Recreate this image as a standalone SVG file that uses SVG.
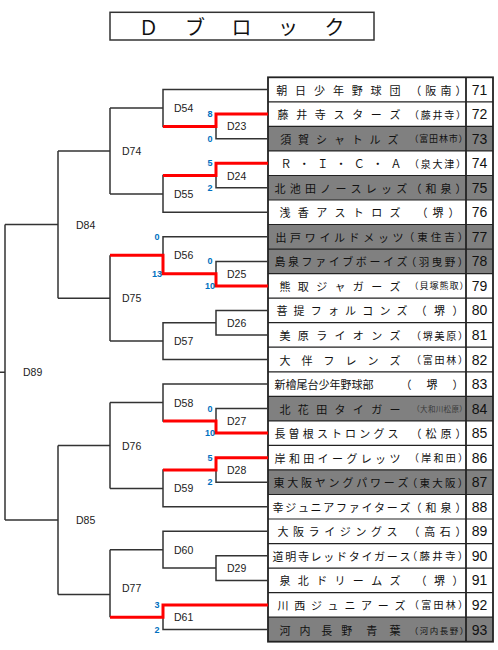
<svg xmlns="http://www.w3.org/2000/svg" width="498" height="650" viewBox="0 0 498 650">
<style>
.nm{font-family:"Noto Sans CJK JP","Noto Sans CJK SC",sans-serif;font-size:11px;fill:#111;text-anchor:middle;dominant-baseline:central}
.rg{font-family:"Noto Sans CJK JP","Noto Sans CJK SC",sans-serif;font-size:11px;fill:#111;text-anchor:middle;dominant-baseline:central}
.no{font-family:"Liberation Sans",Arial,sans-serif;font-size:14px;fill:#111;text-anchor:middle;dominant-baseline:central}
.lb{font-family:"Liberation Sans",Arial,sans-serif;font-size:10.5px;fill:#222;dominant-baseline:central}
.sc{font-family:"Liberation Sans",Arial,sans-serif;font-size:9px;font-weight:bold;fill:#0070c0;text-anchor:middle;dominant-baseline:central}
.ln{fill:none;stroke:#333;stroke-width:1.5}
.rd{fill:none;stroke:#ff0000;stroke-width:3}
.gr{fill:#808080}
.grid{fill:none;stroke:#222;stroke-width:1.2}
.ttl{font-family:"Noto Sans CJK JP","Noto Sans CJK SC",sans-serif;font-size:20px;fill:#111;text-anchor:middle;dominant-baseline:central}
</style>
<rect width="498" height="650" fill="#fff"/>
<g id="title">
<rect x="110" y="12.3" width="264" height="27.7" fill="#fff" stroke="#333" stroke-width="1.5"/>
<text class="ttl" x="148.5 195 241.5 288 334.5" y="26">Ｄブロック</text>
</g>
<g id="table-bg">
<rect class="gr" x="268" y="126.4" width="225" height="24.5"/>
<rect class="gr" x="268" y="175.5" width="225" height="24.5"/>
<rect class="gr" x="268" y="224.5" width="225" height="49.1"/>
<rect class="gr" x="268" y="396.3" width="225" height="24.6"/>
<rect class="gr" x="268" y="469.9" width="225" height="24.6"/>
<rect class="gr" x="268" y="617.2" width="225" height="24.5"/>
</g>
<g id="table-grid">
<path class="grid" d="M268 101.8H493M268 126.4H493M268 150.9H493M268 175.5H493M268 200H493M268 224.5H493M268 249.1H493M268 273.6H493M268 298.2H493M268 322.7H493M268 347.2H493M268 371.8H493M268 396.3H493M268 420.9H493M268 445.4H493M268 469.9H493M268 494.5H493M268 519H493M268 543.6H493M268 568.1H493M268 592.6H493M268 617.2H493"/>
<rect x="268" y="77.3" width="225" height="564.4" fill="none" stroke="#222" stroke-width="1.8"/>
<path d="M466 77.3V641.7" stroke="#222" stroke-width="1.8"/>
</g>
<g id="connectors">
<path class="ln" d="M268 89.6H163V126.4H216M268 114.1H216V138.7H268M163 108H110M268 163.2H216V187.7H268M216 175.5H163V212.3H268M163 193.9H110M110 108V193.9M110 151H58M268 236.8H163V273.7H216M268 261.4H216V285.9H268M163 255.2H110M268 310.4H216V335H268M216 322.7H163V359.5H268M163 341.1H110M110 255.2V341.1M110 298.2H58M58 151V298.2M58 224.6H5M268 384.1H163V420.9H216M268 408.6H216V433.1H268M163 402.5H110M268 457.7H216V482.2H268M216 470H163V506.8H268M163 488.4H110M110 402.5V488.4M110 445.5H58M268 531.3H163V568.1H216M268 555.8H216V580.4H268M163 549.7H110M268 604.9H163V629.5H268M163 617.2H110M110 549.7V617.2M110 594.5H58M58 445.5V594.5M58 520H5M5 224.6V520M5 372.3H0"/>
<path class="rd" d="M268 114.1H216V126.4H163M268 163.2H216V175.5H163M268 285.9H216V273.7H163V255.2H110M268 433.1H216V420.9H163M268 457.7H216V470H163M268 604.9H163V617.2H110"/>
</g>
<g id="team-71"><text class="nm" x="281.7 300.6 319.5 338.4 357.2 376.1 395" y="89.6">朝日少年野球団</text><text class="rg" x="415.7 430.8 445.9 461" y="89.6">（阪南）</text><text class="no" x="479.5" y="89.6">71</text></g>
<g id="team-72"><text class="nm" x="283 301.7 320.3 339 357.7 376.3 395" y="114.1">藤井寺スターズ</text><text class="rg" style="font-size:10px" x="414 425.8 437.5 449.3 461" y="114.1">（藤井寺）</text><text class="no" x="479.5" y="114.1">72</text></g>
<g id="team-73"><text class="nm" x="285.7 303.6 321.5 339.4 357.2 375.1 393" y="138.7">須賀シャトルズ</text><text class="rg" style="font-size:9px" x="414 423.8 433.6 443.4 453.2 463" y="138.7">（富田林市）</text><text class="no" x="479.5" y="138.7">73</text></g>
<g id="team-74"><text class="nm" x="286 304.3 322.7 341 359.3 377.7 396" y="163.2">Ｒ・Ｉ・Ｃ・Ａ</text><text class="rg" style="font-size:10px" x="414 425.8 437.5 449.3 461" y="163.2">（泉大津）</text><text class="no" x="479.5" y="163.2">74</text></g>
<g id="team-75"><text class="nm" x="280 295.2 310.4 325.6 340.9 356.1 371.3 386.5 401.7" y="187.7">北池田ノースレッズ</text><text class="rg" x="416 431 446 461" y="187.7">（和泉）</text><text class="no" x="479.5" y="187.7">75</text></g>
<g id="team-76"><text class="nm" x="285 303.3 321.7 340 358.3 376.7 395" y="212.3">浅香アストロズ</text><text class="rg" x="422 438 454" y="212.3">（堺）</text><text class="no" x="479.5" y="212.3">76</text></g>
<g id="team-77"><text class="nm" x="281 295.6 310.3 324.9 339.5 354.1 368.8 383.4 398" y="236.8">出戸ワイルドメッツ</text><text class="rg" style="font-size:10.5px" x="409 422.5 436 449.5 463" y="236.8">（東住吉）</text><text class="no" x="479.5" y="236.8">77</text></g>
<g id="team-78"><text class="nm" x="280 293.6 307.1 320.7 334.2 347.8 361.3 374.9 388.4 402" y="261.4">島泉ファイブボーイズ</text><text class="rg" style="font-size:10.5px" x="411 424 437 450 463" y="261.4">（羽曳野）</text><text class="no" x="479.5" y="261.4">78</text></g>
<g id="team-79"><text class="nm" x="285 303.3 321.7 340 358.3 376.7 395" y="285.9">熊取ジャガーズ</text><text class="rg" style="font-size:9px" x="414 424 434 444 454 464" y="285.9">（貝塚熊取）</text><text class="no" x="479.5" y="285.9">79</text></g>
<g id="team-80"><text class="nm" x="282 299.1 316.3 333.4 350.6 367.7 384.9 402" y="310.4">菩提フォルコンズ</text><text class="rg" x="421 439.5 458" y="310.4">（堺）</text><text class="no" x="479.5" y="310.4">80</text></g>
<g id="team-81"><text class="nm" x="285 303.3 321.7 340 358.3 376.7 395" y="335">美原ライオンズ</text><text class="rg" style="font-size:10px" x="416 427.8 439.5 451.3 463" y="335">（堺美原）</text><text class="no" x="479.5" y="335">81</text></g>
<g id="team-82"><text class="nm" x="285 307 329 351 373 395" y="359.5">大伴フレンズ</text><text class="rg" style="font-size:10px" x="416 427.8 439.5 451.3 463" y="359.5">（富田林）</text><text class="no" x="479.5" y="359.5">82</text></g>
<g id="team-83"><text class="nm" x="280 291 302 313 324 335 346 357 368" y="384.1">新檜尾台少年野球部</text><text class="rg" x="406 432 458" y="384.1">（堺）</text><text class="no" x="479.5" y="384.1">83</text></g>
<g id="team-84"><text class="nm" x="285 303.3 321.7 340 358.3 376.7 395" y="408.6">北花田タイガー</text><text class="rg" style="font-size:7.5px;fill:#3a3a3a" x="416 423.8 431.7 439.5 447.3 455.2 463" y="408.6">（大和川松原）</text><text class="no" x="479.5" y="408.6">84</text></g>
<g id="team-85"><text class="nm" x="280 294.1 308.3 322.4 336.5 350.6 364.8 378.9 393" y="433.1">長曽根ストロングス</text><text class="rg" x="416 431 446 461" y="433.1">（松原）</text><text class="no" x="479.5" y="433.1">85</text></g>
<g id="team-86"><text class="nm" x="280 294.4 308.8 323.1 337.5 351.9 366.3 380.6 395" y="457.7">岸和田イーグレッツ</text><text class="rg" style="font-size:10px" x="414 426.3 438.5 450.8 463" y="457.7">（岸和田）</text><text class="no" x="479.5" y="457.7">86</text></g>
<g id="team-87"><text class="nm" x="279 292.8 306.6 320.3 334.1 347.9 361.7 375.4 389.2 403" y="482.2">東大阪ヤングパワーズ</text><text class="rg" style="font-size:10.5px" x="412 424.8 437.5 450.3 463" y="482.2">（東大阪）</text><text class="no" x="479.5" y="482.2">87</text></g>
<g id="team-88"><text class="nm" x="278 290.7 303.4 316.1 328.8 341.5 354.2 366.9 379.6 392.3 405" y="506.8">幸ジュニアファイターズ</text><text class="rg" x="416 431 446 461" y="506.8">（和泉）</text><text class="no" x="479.5" y="506.8">88</text></g>
<g id="team-89"><text class="nm" x="283 298.6 314.1 329.7 345.3 360.9 376.4 392" y="531.3">大阪ライジングス</text><text class="rg" x="414 429.7 445.3 461" y="531.3">（高石）</text><text class="no" x="479.5" y="531.3">89</text></g>
<g id="team-90"><text class="nm" x="278 290.7 303.4 316.1 328.8 341.5 354.2 366.9 379.6 392.3 405" y="555.8">道明寺レッドタイガース</text><text class="rg" style="font-size:10.5px" x="412 424.8 437.5 450.3 463" y="555.8">（藤井寺）</text><text class="no" x="479.5" y="555.8">90</text></g>
<g id="team-91"><text class="nm" x="285 303.3 321.7 340 358.3 376.7 395" y="580.4">泉北ドリームズ</text><text class="rg" x="421 439.5 458" y="580.4">（堺）</text><text class="no" x="479.5" y="580.4">91</text></g>
<g id="team-92"><text class="nm" x="283 299.7 316.4 333.1 349.9 366.6 383.3 400" y="604.9">川西ジュニアーズ</text><text class="rg" style="font-size:10px" x="414 426.3 438.5 450.8 463" y="604.9">（富田林）</text><text class="no" x="479.5" y="604.9">92</text></g>
<g id="team-93"><text class="nm" x="285 305 326.7 346.7 371.7 395" y="629.5">河内長野青葉</text><text class="rg" style="font-size:8.5px" x="414 424 434 444 454 464" y="629.5">（河内長野）</text><text class="no" x="479.5" y="629.5">93</text></g>
<g id="match-D23"><text class="lb" x="227" y="126.4">D23</text><text class="sc" x="210" y="114.1">8</text><text class="sc" x="210" y="138.7">0</text></g>
<g id="match-D24"><text class="lb" x="227" y="175.5">D24</text><text class="sc" x="210" y="163.2">5</text><text class="sc" x="210" y="187.7">2</text></g>
<g id="match-D25"><text class="lb" x="227" y="273.7">D25</text><text class="sc" x="210" y="261.4">0</text><text class="sc" x="210" y="285.9">10</text></g>
<g id="match-D26"><text class="lb" x="227" y="322.7">D26</text></g>
<g id="match-D27"><text class="lb" x="227" y="420.9">D27</text><text class="sc" x="210" y="408.6">0</text><text class="sc" x="210" y="433.1">10</text></g>
<g id="match-D28"><text class="lb" x="227" y="470">D28</text><text class="sc" x="210" y="457.7">5</text><text class="sc" x="210" y="482.2">2</text></g>
<g id="match-D29"><text class="lb" x="227" y="568.1">D29</text></g>
<g id="match-D54"><text class="lb" x="174" y="108">D54</text></g>
<g id="match-D55"><text class="lb" x="174" y="193.9">D55</text></g>
<g id="match-D56"><text class="lb" x="174" y="255.2">D56</text><text class="sc" x="157" y="236.8">0</text><text class="sc" x="157" y="273.7">13</text></g>
<g id="match-D57"><text class="lb" x="174" y="341.1">D57</text></g>
<g id="match-D58"><text class="lb" x="174" y="402.5">D58</text></g>
<g id="match-D59"><text class="lb" x="174" y="488.4">D59</text></g>
<g id="match-D60"><text class="lb" x="174" y="549.7">D60</text></g>
<g id="match-D61"><text class="lb" x="174" y="617.2">D61</text><text class="sc" x="157" y="604.9">3</text><text class="sc" x="157" y="629.5">2</text></g>
<g id="match-D74"><text class="lb" x="122" y="151">D74</text></g>
<g id="match-D75"><text class="lb" x="122" y="298.2">D75</text></g>
<g id="match-D76"><text class="lb" x="122" y="445.5">D76</text></g>
<g id="match-D77"><text class="lb" x="122" y="588">D77</text></g>
<g id="match-D84"><text class="lb" x="76" y="224.6">D84</text></g>
<g id="match-D85"><text class="lb" x="76" y="520">D85</text></g>
<g id="match-D89"><text class="lb" x="23" y="372.3">D89</text></g>
</svg>
